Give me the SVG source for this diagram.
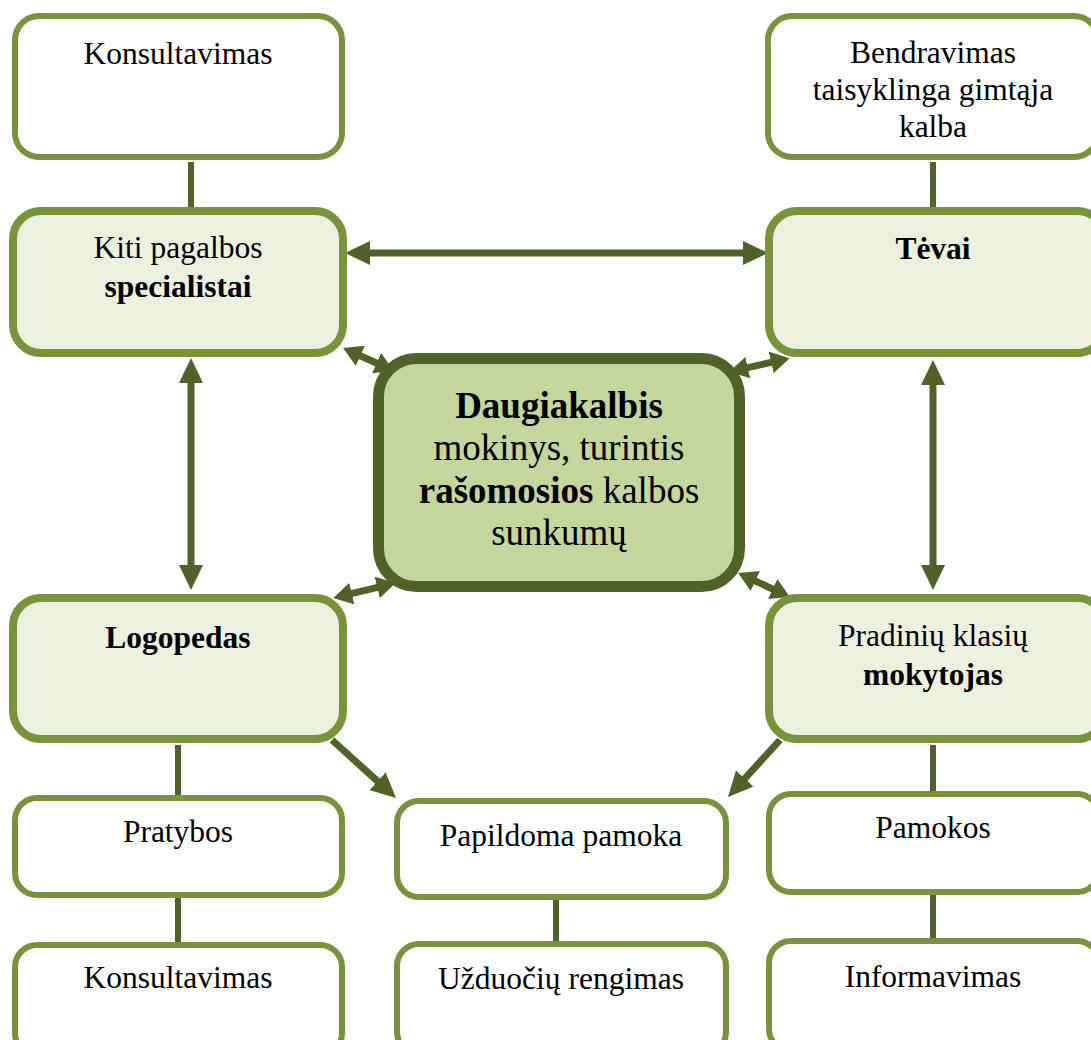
<svg xmlns="http://www.w3.org/2000/svg" width="1091" height="1040" viewBox="0 0 1091 1040">
<style>
.box{fill:#FFFFFF;stroke:#77933C;stroke-width:6}
.lt{fill:#EBF1DE;stroke:#77933C;stroke-width:8}
.ctr{fill:#C3D69B;stroke:#4F6228;stroke-width:11}
.t{font-family:"Liberation Serif","Times New Roman",serif;font-size:31.5px;fill:#000;text-anchor:middle}
.c{font-family:"Liberation Serif","Times New Roman",serif;font-size:37px;fill:#000;text-anchor:middle}
.b{font-weight:bold}
.ln{stroke:#4F6228;stroke-width:6;fill:none}
.ar{stroke:#4F6228;stroke-width:7;fill:none}
.sa{stroke:#4F6228;stroke-width:7;fill:none}
</style>
<defs>
<marker id="big" markerUnits="userSpaceOnUse" markerWidth="25" markerHeight="24" viewBox="0 0 25 24" refX="10" refY="12" orient="auto-start-reverse"><path d="M0,0 L25,12 L0,24 z" fill="#4F6228"/></marker>
<marker id="sm" markerUnits="userSpaceOnUse" markerWidth="19" markerHeight="22" viewBox="0 0 19 22" refX="7" refY="11" orient="auto-start-reverse"><path d="M0,0 L19,11 L0,22 z" fill="#4F6228"/></marker>
</defs>
<rect width="1091" height="1040" fill="#FFFFFF"/>
<g id="connectors">
<line class="ln" x1="191" y1="162" x2="191" y2="209"/>
<line class="ln" x1="933" y1="162" x2="933" y2="209"/>
<line class="ln" x1="178" y1="745" x2="178" y2="796"/>
<line class="ln" x1="178" y1="898" x2="178" y2="944"/>
<line class="ln" x1="556" y1="900" x2="556" y2="943"/>
<line class="ln" x1="933" y1="745" x2="933" y2="792"/>
<line class="ln" x1="933" y1="895" x2="933" y2="940"/>
<line class="ar" x1="360" y1="253" x2="753" y2="253" marker-start="url(#big)" marker-end="url(#big)"/>
<line class="ar" x1="191" y1="373" x2="191" y2="575" marker-start="url(#big)" marker-end="url(#big)"/>
<line class="ar" x1="933" y1="375" x2="933" y2="575" marker-start="url(#big)" marker-end="url(#big)"/>
<line class="ar" x1="332" y1="740" x2="384.9" y2="787.9" marker-end="url(#big)"/>
<line class="ar" x1="780" y1="740" x2="738.1" y2="785.9" marker-end="url(#big)"/>
<line class="sa" x1="354" y1="353" x2="383" y2="366" marker-start="url(#sm)" marker-end="url(#sm)"/>
<line class="sa" x1="741" y1="369.2" x2="778" y2="360.8" marker-start="url(#sm)" marker-end="url(#sm)"/>
<line class="sa" x1="345" y1="595.2" x2="384" y2="585.8" marker-start="url(#sm)" marker-end="url(#sm)"/>
<line class="sa" x1="749" y1="578" x2="779" y2="592" marker-start="url(#sm)" marker-end="url(#sm)"/>
</g>
<g id="n-konsultavimas-top">
<rect class="box" x="15" y="16" width="327" height="141" rx="24"/>
<text class="t" x="178" y="64">Konsultavimas</text>
</g>
<g id="n-bendravimas">
<rect class="box" x="768" y="16" width="330" height="141" rx="24"/>
<text class="t" x="933" y="63">Bendravimas</text>
<text class="t" x="933" y="100">taisyklinga gimtąja</text>
<text class="t" x="933" y="137">kalba</text>
</g>
<g id="n-kiti">
<rect class="lt" x="13" y="211" width="330" height="142" rx="28"/>
<text class="t" x="178" y="258">Kiti pagalbos</text>
<text class="t b" x="178" y="297">specialistai</text>
</g>
<g id="n-tevai">
<rect class="lt" x="769" y="211" width="336" height="142" rx="28"/>
<text class="t b" x="933" y="259">Tėvai</text>
</g>
<g id="n-center">
<rect class="ctr" x="378.5" y="358.5" width="361" height="228" rx="38"/>
<text class="c b" x="559" y="418">Daugiakalbis</text>
<text class="c" x="559" y="460">mokinys, turintis</text>
<text class="c" x="559" y="503"><tspan class="b">rašomosios</tspan> kalbos</text>
<text class="c" x="559" y="545">sunkumų</text>
</g>
<g id="n-logopedas">
<rect class="lt" x="13" y="598" width="330" height="141" rx="28"/>
<text class="t b" x="178" y="648">Logopedas</text>
</g>
<g id="n-pradiniu">
<rect class="lt" x="769" y="598" width="336" height="141" rx="28"/>
<text class="t" x="933" y="646">Pradinių klasių</text>
<text class="t b" x="933" y="685">mokytojas</text>
</g>
<g id="n-pratybos">
<rect class="box" x="15" y="798" width="327" height="97" rx="22"/>
<text class="t" x="178" y="842">Pratybos</text>
</g>
<g id="n-papildoma">
<rect class="box" x="397" y="801" width="329" height="96" rx="22"/>
<text class="t" x="561" y="846">Papildoma pamoka</text>
</g>
<g id="n-pamokos">
<rect class="box" x="769" y="794" width="330" height="98" rx="22"/>
<text class="t" x="933" y="838">Pamokos</text>
</g>
<g id="n-konsultavimas-bottom">
<rect class="box" x="15" y="945" width="327" height="110" rx="22"/>
<text class="t" x="178" y="988">Konsultavimas</text>
</g>
<g id="n-uzduociu">
<rect class="box" x="397" y="944" width="329" height="110" rx="22"/>
<text class="t" x="561" y="989">Užduočių rengimas</text>
</g>
<g id="n-informavimas">
<rect class="box" x="769" y="941" width="330" height="110" rx="22"/>
<text class="t" x="933" y="987">Informavimas</text>
</g>
</svg>
